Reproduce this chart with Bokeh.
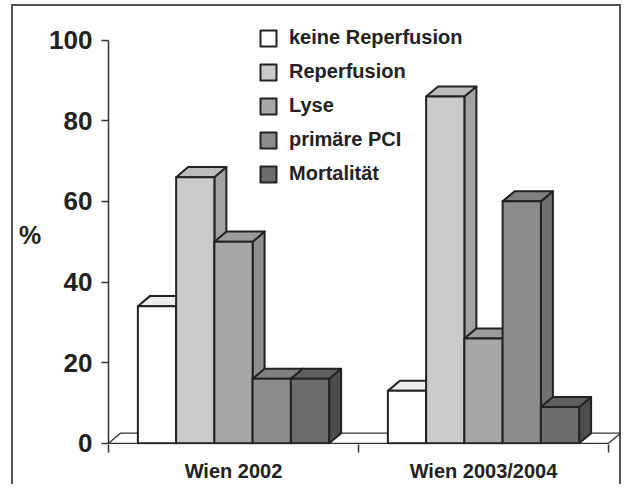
from bokeh.plotting import figure
from bokeh.models import Range1d, FixedTicker, Legend, LegendItem
from bokeh.embed import file_html
from bokeh.resources import INLINE

# ---- data ----
categories = ["Wien 2002", "Wien 2003/2004"]
series = ["keine Reperfusion", "Reperfusion", "Lyse", "primäre PCI", "Mortalität"]
wien_2002 = [34, 66, 50, 16, 16]
wien_2003_2004 = [13, 86, 26, 60, 9]
values_by_category = [wien_2002, wien_2003_2004]
y_ticks = [0, 20, 40, 60, 80, 100]

# ---- styles ----
front_colors = ["#ffffff", "#c9cacc", "#a6a7a9", "#8b8c8e", "#6b6c6e"]
top_colors = ["#ededed", "#bbbcbe", "#9b9c9e", "#7f8082", "#5e5f61"]
side_colors = ["#d2d2d2", "#a1a2a4", "#8e8f91", "#6f7072", "#4c4d4f"]
EDGE = "#222222"
FONT = "Liberation Sans"
BAR_W = 0.153
DX = 0.048
DY = 2.5

p = figure(frame_width=513, frame_height=444,
           min_border_left=108, min_border_right=0, min_border_top=0, min_border_bottom=30,
           x_range=Range1d(0, 2.052), y_range=Range1d(-0.3, 109.82),
           output_backend="svg", toolbar_location=None,
           background_fill_color=None, border_fill_color=None)
p.outline_line_color = None
p.grid.visible = False
p.styles = {
    "background-color": "white",
    "background-image": "linear-gradient(#555555,#555555), linear-gradient(#555555,#555555), linear-gradient(#555555,#555555)",
    "background-position": "11px 4px, 11px 4px, 619px 4px",
    "background-size": "2px 100%, 610px 2px, 2px 100%",
    "background-repeat": "no-repeat",
}

ncat = len(categories)
# floor
p.patch([0, ncat, ncat + DX, DX], [0, 0, DY, DY], fill_color="white",
        line_color="#333333", line_width=1.3)

legend_items = []
for i, name in enumerate(series):
    lefts, rights, tops = [], [], []
    for ci, vals in enumerate(values_by_category):
        l = ci + 0.5 + (i - 2.5) * BAR_W
        lefts.append(l)
        rights.append(l + BAR_W)
        tops.append(vals[i])
    side_xs = [[r, r + DX, r + DX, r] for r in rights]
    side_ys = [[0, DY, t + DY, t] for t in tops]
    top_xs = [[l, r, r + DX, l + DX] for l, r in zip(lefts, rights)]
    top_ys = [[t, t, t + DY, t + DY] for t in tops]
    p.patches(side_xs, side_ys, fill_color=side_colors[i], line_color=EDGE,
              line_width=2, line_join="round")
    p.patches(top_xs, top_ys, fill_color=top_colors[i], line_color=EDGE,
              line_width=2, line_join="round")
    fr = p.quad(left=lefts, right=rights, bottom=[0] * ncat, top=tops,
                fill_color=front_colors[i], line_color=EDGE, line_width=2,
                line_join="round")
    legend_items.append(LegendItem(label=name, renderers=[fr]))

# y axis
ya = p.yaxis[0]
ya.ticker = FixedTicker(ticks=y_ticks)
ya.bounds = (0, 100)
ya.axis_line_color = "#333333"
ya.axis_line_width = 1.5
ya.major_tick_line_color = "#333333"
ya.major_tick_line_width = 1.5
ya.major_tick_out = 7
ya.major_tick_in = 0
ya.minor_tick_line_color = None
ya.major_label_standoff = 9
ya.major_label_text_font = FONT
ya.major_label_text_font_style = "bold"
ya.major_label_text_font_size = "26px"
ya.major_label_text_color = "#222222"
ya.axis_label = "\n%"
ya.axis_label_orientation = "horizontal"
ya.axis_label_standoff = 5
ya.axis_label_text_font = FONT
ya.axis_label_text_font_style = "bold"
ya.axis_label_text_font_size = "25px"
ya.axis_label_text_line_height = 0.9
ya.axis_label_text_color = "#222222"

# x axis: labels at group centres, ticks (minor) at group boundaries
xa = p.xaxis[0]
centers = [ci + 0.5 for ci in range(ncat)]
xa.ticker = FixedTicker(ticks=centers, minor_ticks=list(range(ncat + 1)))
xa.major_label_overrides = {c: lab for c, lab in zip(centers, categories)}
xa.axis_line_color = None
xa.major_tick_line_color = None
xa.major_tick_out = 0
xa.major_tick_in = 0
xa.minor_tick_line_color = "#333333"
xa.minor_tick_line_width = 1.5
xa.minor_tick_out = 8
xa.minor_tick_in = 0
xa.major_label_standoff = 7
xa.major_label_text_font = FONT
xa.major_label_text_font_style = "bold"
xa.major_label_text_font_size = "20px"
xa.major_label_text_color = "#222222"

legend = Legend(items=legend_items, location=(150, 259),
                glyph_width=20, glyph_height=20, label_standoff=11, spacing=11,
                padding=0, margin=0, label_height=20,
                border_line_color=None, background_fill_alpha=0,
                label_text_font=FONT, label_text_font_style="bold",
                label_text_font_size="20px", label_text_color="#222222")
p.add_layout(legend)

open("out.html", "w").write(file_html(p, INLINE))
